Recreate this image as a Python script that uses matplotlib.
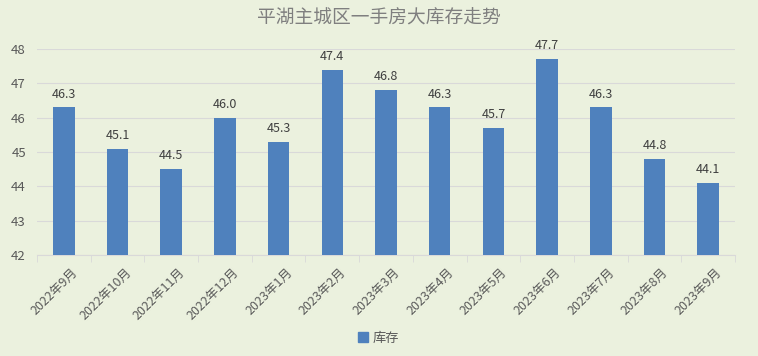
import matplotlib.pyplot as plt
import matplotlib.transforms as mtransforms
import numpy as np
from matplotlib.patches import Patch

plt.rcParams['font.family'] = ['Noto Sans CJK SC', 'DejaVu Sans']

months = ['2022年9月', '2022年10月', '2022年11月', '2022年12月', '2023年1月', '2023年2月',
          '2023年3月', '2023年4月', '2023年5月', '2023年6月', '2023年7月', '2023年8月', '2023年9月']
stock = [46.3, 45.1, 44.5, 46.0, 45.3, 47.4, 46.8, 46.3, 45.7, 47.7, 46.3, 44.8, 44.1]

bg = '#EBF1DE'
bar_color = '#4F81BD'
text_color = '#595959'

fig = plt.figure(figsize=(7.58, 3.56), dpi=100, facecolor=bg)
ax = fig.add_axes([37 / 758, 1 - 255 / 356, 698 / 758, 206 / 356], facecolor=bg)

x = np.arange(len(months))
ax.bar(x, stock, width=0.4, color=bar_color, zorder=3)
for xi, v in zip(x, stock):
    ax.text(xi, v + 0.2, f'{v:.1f}', ha='center', va='bottom', fontsize=9, color='#404040')

ax.set_ylim(42, 48)
ax.set_xlim(-0.5, len(months) - 0.5)
ax.set_yticks(range(42, 49))
ax.grid(axis='y', color='#D9D9D9', linewidth=0.8, zorder=0)
for s in ['top', 'right', 'left']:
    ax.spines[s].set_visible(False)
ax.spines['bottom'].set_color('#D9D9D9')
ax.tick_params(axis='y', length=0, labelsize=9.5, labelcolor=text_color, pad=8)

ax.set_xticks(x)
ax.set_xticklabels(months, rotation=45, ha='right', rotation_mode='anchor',
                   fontsize=9, color=text_color)
ax.tick_params(axis='x', length=0, pad=8)
shift = mtransforms.ScaledTranslation(7 / 100, 0, fig.dpi_scale_trans)
for lbl in ax.get_xticklabels():
    lbl.set_transform(lbl.get_transform() + shift)
ax.set_xticks(np.arange(-0.5, len(months)), minor=True)
ax.tick_params(axis='x', which='minor', length=5, color='#D9D9D9')

fig.text(0.5, 1 - 18 / 356, '平湖主城区一手房大库存走势', ha='center', va='center',
         fontsize=13.5, color='#7F7F7F')

fig.legend(handles=[Patch(color=bar_color, label='库存')], loc='center',
           bbox_to_anchor=(0.5, 1 - 338 / 356), frameon=False, fontsize=9.5,
           handlelength=0.7, handleheight=0.7, handletextpad=0.4, labelcolor=text_color)

fig.savefig('out.png', dpi=100, facecolor=bg)
